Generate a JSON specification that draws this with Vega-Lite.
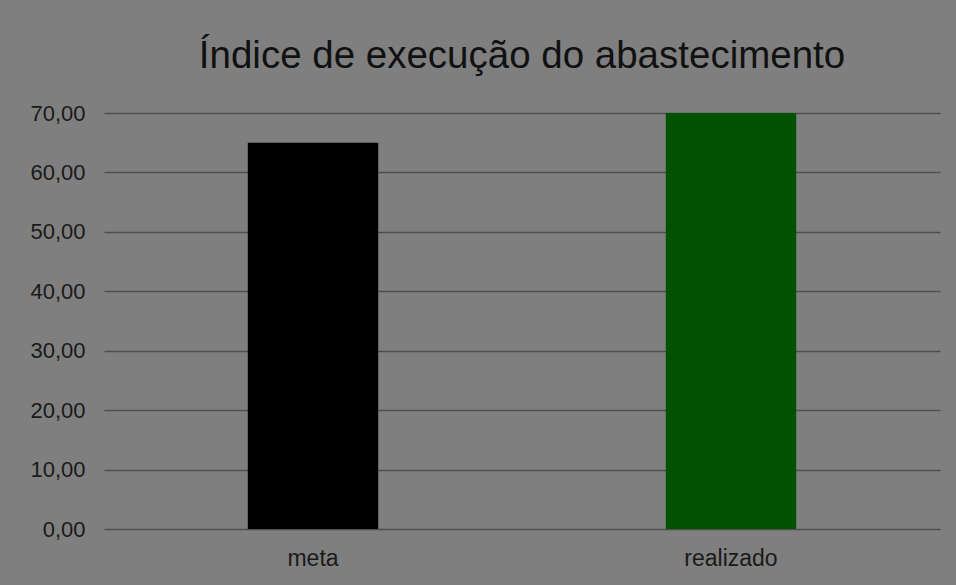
{
  "$schema": "https://vega.github.io/schema/vega-lite/v6.json",
  "width": 836,
  "height": 416,
  "autosize": {"type": "none"},
  "padding": {"left": 104, "top": 113, "right": 16, "bottom": 56},
  "background": "#7f7f7f",
  "config": {
    "locale": {"number": {"decimal": ",", "thousands": ".", "grouping": [3], "currency": ["R$", ""]}},
    "view": {"stroke": null},
    "font": "Liberation Sans"
  },
  "title": {
    "text": "Índice de execução do abastecimento",
    "fontSize": 38.5,
    "fontWeight": "normal",
    "color": "#111111",
    "font": "Liberation Sans",
    "anchor": "middle",
    "offset": 26
  },
  "data": {
    "values": [
      {"categoria": "meta", "valor": 65},
      {"categoria": "realizado", "valor": 70}
    ]
  },
  "mark": {"type": "bar", "width": {"band": 0.312}},
  "encoding": {
    "x": {
      "field": "categoria",
      "type": "nominal",
      "sort": null,
      "scale": {"paddingInner": 0, "paddingOuter": 0},
      "axis": {
        "title": null,
        "labelAngle": 0,
        "domain": false,
        "ticks": false,
        "labelFontSize": 23,
        "labelColor": "#1a1a1a",
        "labelPadding": 18,
        "labelFont": "Liberation Sans"
      }
    },
    "y": {
      "field": "valor",
      "type": "quantitative",
      "scale": {"domain": [0, 70], "nice": false},
      "axis": {
        "title": null,
        "values": [0, 10, 20, 30, 40, 50, 60, 70],
        "format": ",.2f",
        "domain": false,
        "ticks": false,
        "grid": true,
        "gridColor": "#4f4f4f",
        "gridWidth": 1.5,
        "labelFontSize": 22,
        "labelColor": "#1a1a1a",
        "labelPadding": 19,
        "labelFont": "Liberation Sans"
      }
    },
    "color": {
      "field": "categoria",
      "type": "nominal",
      "scale": {"domain": ["meta", "realizado"], "range": ["#000000", "#005200"]},
      "legend": null
    }
  }
}
